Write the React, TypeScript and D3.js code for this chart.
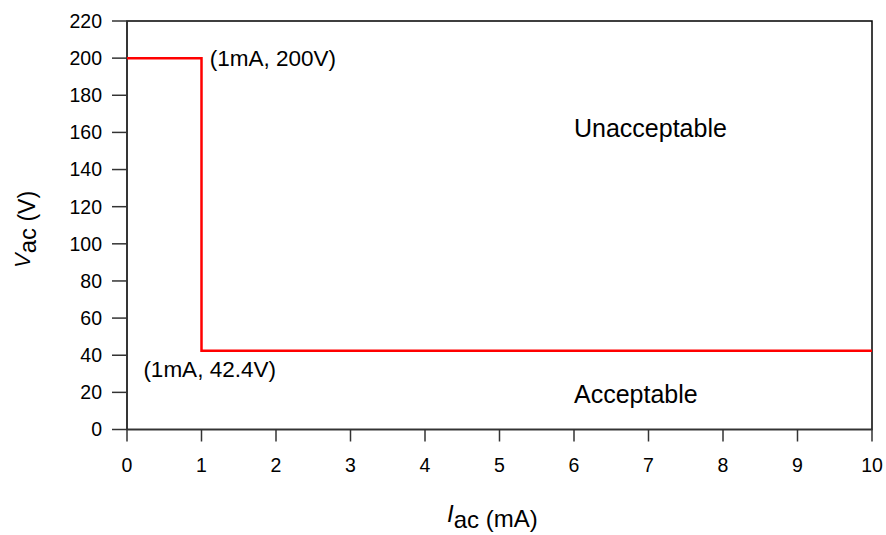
import React from "react";
import * as d3 from "d3";

const xTicks = [0, 1, 2, 3, 4, 5, 6, 7, 8, 9, 10];
const yTicks = [0, 20, 40, 60, 80, 100, 120, 140, 160, 180, 200, 220];
const limitI = [0, 1, 1, 10];
const limitV = [200, 200, 42.4, 42.4];
const annotations = [
  { text: "(1mA, 200V)", x: 1.11, y: 200, dy: 8 },
  { text: "(1mA, 42.4V)", x: 0.22, y: 42.4, dy: 26 },
];
const regions = [
  { text: "Unacceptable", x: 6, y: 157.3 },
  { text: "Acceptable", x: 6, y: 14.3 },
];

export default function App() {
  const W = 886, H = 535;
  const left = 127, right = 872, top = 21, bottom = 429.5;
  const x = d3.scaleLinear().domain([0, 10]).range([left, right]);
  const y = d3.scaleLinear().domain([0, 220]).range([bottom, top]);
  const line = d3.line<number>().x((_, i) => x(limitI[i])).y((d) => y(d));
  const font = "Liberation Sans, Arial, sans-serif";
  const axisColor = "#333";
  return (
    <svg width={W} height={H} style={{ position: "absolute", left: 0, top: 0 }} fontFamily={font}>
      <rect x={left} y={top} width={right - left} height={bottom - top} fill="none" stroke="#000" strokeWidth={1.5} />
      <line x1={left} x2={left} y1={top} y2={bottom} stroke={axisColor} strokeWidth={1.5} />
      <line x1={left} x2={right} y1={bottom} y2={bottom} stroke={axisColor} strokeWidth={1.5} />
      {yTicks.map((t) => (
        <g key={"y" + t}>
          <line x1={left - 15} x2={left} y1={y(t)} y2={y(t)} stroke={axisColor} strokeWidth={1.5} />
          <text x={left - 25} y={y(t)} dy="0.35em" textAnchor="end" fontSize={19.5}>{t}</text>
        </g>
      ))}
      {xTicks.map((t) => (
        <g key={"x" + t}>
          <line x1={x(t)} x2={x(t)} y1={bottom} y2={bottom + 12} stroke={axisColor} strokeWidth={1.5} />
          <text x={x(t)} y={bottom + 42} textAnchor="middle" fontSize={19.5}>{t}</text>
        </g>
      ))}
      <path d={line(limitV) || ""} fill="none" stroke="#ff0000" strokeWidth={2.5} />
      {annotations.map((a) => (
        <text key={a.text} x={x(a.x)} y={y(a.y) + a.dy} fontSize={22.5}>{a.text}</text>
      ))}
      {regions.map((r) => (
        <text key={r.text} x={x(r.x)} y={y(r.y)} fontSize={25}>{r.text}</text>
      ))}
      <text x={447} y={522} fontSize={24}>
        <tspan fontStyle="italic">I</tspan>
        <tspan dy={6}>ac</tspan>
        <tspan dy={-1}> (mA)</tspan>
      </text>
      <text transform={`translate(30,268) rotate(-90)`} fontSize={22}>
        <tspan fontStyle="italic">V</tspan>
        <tspan dy={6} fontSize={24}>ac</tspan>
        <tspan dy={-1} fontSize={23}> (V)</tspan>
      </text>
    </svg>
  );
}
